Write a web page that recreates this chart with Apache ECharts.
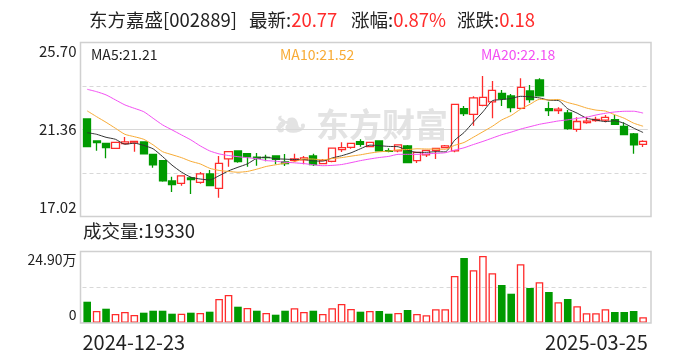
<!DOCTYPE html>
<html><head><meta charset="utf-8">
<script src="https://cdn.jsdelivr.net/npm/echarts@6/dist/echarts.min.js"></script>
<style>html,body{margin:0;padding:0;background:#fff}#c{width:688px;height:360px}</style>
</head><body><div id="c"></div>
<script>
// ---------- data ----------
const dates = ['2024-12-23','2024-12-24','2024-12-25','2024-12-26','2024-12-27','2024-12-30','2024-12-31',
'2025-01-02','2025-01-03','2025-01-06','2025-01-07','2025-01-08','2025-01-09','2025-01-10','2025-01-13','2025-01-14',
'2025-01-15','2025-01-16','2025-01-17','2025-01-20','2025-01-21','2025-01-22','2025-01-23','2025-01-24','2025-01-27',
'2025-02-05','2025-02-06','2025-02-07','2025-02-10','2025-02-11','2025-02-12','2025-02-13','2025-02-14','2025-02-17',
'2025-02-18','2025-02-19','2025-02-20','2025-02-21','2025-02-24','2025-02-25','2025-02-26','2025-02-27','2025-02-28',
'2025-03-03','2025-03-04','2025-03-05','2025-03-06','2025-03-07','2025-03-10','2025-03-11','2025-03-12','2025-03-13',
'2025-03-14','2025-03-17','2025-03-18','2025-03-19','2025-03-20','2025-03-21','2025-03-24','2025-03-25'];
const opens  = [21.89,20.79,20.67,20.42,20.65,20.69,20.74,20.12,19.80,18.79,18.67,18.94,18.72,19.14,18.42,19.89,20.29,20.15,19.98,19.97,
                20.04,19.74,19.82,19.84,20.04,19.65,19.77,20.35,20.47,20.75,20.50,20.79,20.30,20.29,20.54,19.80,20.09,20.32,20.45,20.29,
                22.40,22.12,22.57,22.74,23.17,23.04,22.42,23.29,23.84,22.40,22.30,22.19,21.37,21.70,21.80,21.83,21.85,21.52,21.14,20.62];
const closes = [20.50,20.70,20.45,20.72,20.74,20.77,20.14,19.59,18.79,18.60,19.04,18.85,19.14,18.55,19.67,20.25,19.75,19.99,19.93,19.95,
                19.87,19.65,19.89,19.94,19.60,19.82,20.43,20.45,20.67,20.62,20.72,20.29,20.27,20.59,19.70,20.22,20.32,20.42,20.54,22.62,
                22.15,22.94,22.97,23.32,22.89,22.45,23.47,22.85,23.04,22.31,22.38,21.40,21.76,21.78,21.86,21.97,21.62,21.10,20.59,20.77];
const lows   = [20.48,20.30,19.92,20.40,20.62,20.25,20.12,19.45,18.75,18.24,18.55,18.14,18.65,18.55,17.95,19.50,19.70,19.50,19.55,19.77,
                19.62,19.54,19.75,19.62,19.54,19.65,19.72,20.24,20.40,20.50,20.48,20.28,20.22,20.22,19.70,19.69,19.99,19.89,20.42,20.22,
                22.04,21.55,22.52,21.92,22.54,22.22,22.40,22.70,23.03,22.04,22.14,21.35,21.25,21.65,21.75,21.72,21.60,21.10,20.15,20.49];
const highs  = [21.90,20.82,20.70,20.73,20.99,20.80,20.77,20.12,19.82,19.00,19.05,19.00,19.24,19.34,20.04,20.26,20.29,20.19,20.19,20.10,
                20.05,20.14,20.15,20.04,20.15,19.89,20.45,20.72,20.68,20.87,20.73,20.80,20.42,20.60,20.59,20.23,20.33,20.45,20.59,22.64,
                22.54,23.02,24.04,23.79,23.34,23.14,23.92,23.59,23.92,22.75,22.47,22.34,21.97,22.00,22.00,22.09,22.09,21.72,21.19,20.82];
const volumes = [73200,40800,48800,30300,37300,26800,34900,41800,41800,31400,31400,34900,33800,38400,82600,96600,55800,51200,41800,33800,
                 27900,41800,50200,37300,41800,30300,50200,65200,47800,38400,40800,40800,31400,33800,44300,30300,25800,46700,46700,162800,
                 225600,182700,232600,172300,131500,101100,203600,121000,140900,107100,71100,82600,57200,32800,32800,46700,37300,37300,40800,19330];
// moving-average values for the first days (history before the window)
const ma5Head  = [21.20,21.12,20.97,20.87];
const ma10Head = [22.29,22.00,21.72,21.42,21.12,21.00,20.87,20.59,20.25];
const ma20Head = [23.37,23.25,23.09,22.84,22.59,22.42,22.25,21.92,21.59,21.34,21.09,20.84,20.54,20.29,20.14,20.06,20.00,19.95,19.90];
const priceTicks = ['17.02','21.36','25.70'];
const volTicks = ['0','24.90万'];
const priceMin = 17.02, priceMax = 25.70, volMax = 249000;
const stockName = '东方嘉盛[002889]';
const latest = '20.77', changePct = '0.87%', change = '0.18';
const lastVolume = '19330';
const maLegend = {ma5:'21.21', ma10:'21.52', ma20:'22.18'};

// ---------- build ----------
const RED = '#ff2b2b', GREEN = '#009a00';
function movingAvg(n, head){
  return closes.map((c,i)=>{
    if (i < head.length) return head[i];
    let s = 0; for (let k=i-n+1;k<=i;k++) s += closes[k];
    return +(s/n).toFixed(3);
  });
}
const kData = opens.map((o,i)=>[o, closes[i], lows[i], highs[i]]);
const volData = volumes.map((v,i)=>{
  const up = i === 0 ? closes[i] >= opens[i] : closes[i] >= closes[i-1];
  return {value: v, itemStyle: up ? {color:'rgba(255,255,255,0)', borderColor: RED, borderWidth: 1.3}
                                  : {color: GREEN, borderColor: GREEN, borderWidth: 0}};
});
const FONT = '"Microsoft YaHei","Noto Sans CJK SC",sans-serif';
const GL = 82.5, GR = 40.2;
const HF = '18.5px ' + FONT;

const chart = echarts.init(document.getElementById('c'), null, {renderer:'canvas'});
chart.setOption({
  animation: false,
  backgroundColor: '#fff',
  textStyle: {fontFamily: FONT},
  grid: [
    {left: GL, right: GR, top: 42.7, height: 173.6},
    {left: GL, right: GR, top: 251.3, height: 71.4}
  ],
  xAxis: [
    {type:'category', gridIndex:0, position:'bottom', data: dates, boundaryGap:true, axisLine:{show:false}, axisTick:{show:false}, axisLabel:{show:false}, splitLine:{show:false}},
    {type:'category', gridIndex:1, position:'bottom', data: dates, boundaryGap:true, axisLine:{show:false}, axisTick:{show:false}, axisLabel:{show:false}, splitLine:{show:false}},
    {type:'category', gridIndex:1, position:'bottom', data: dates, boundaryGap:false, axisLine:{show:false}, axisTick:{show:false}, splitLine:{show:false},
      axisLabel:{show:true, interval:(i)=>i===0, showMinLabel:true, showMaxLabel:false, align:'left', margin:10, color:'#222', fontSize:20, fontFamily:FONT}},
    {type:'category', gridIndex:1, position:'bottom', data: dates, boundaryGap:false, axisLine:{show:false}, axisTick:{show:false}, splitLine:{show:false},
      axisLabel:{show:true, interval:(i)=>i===dates.length-1, showMinLabel:false, showMaxLabel:true, align:'right', margin:10, color:'#222', fontSize:20, fontFamily:FONT}}
  ],
  yAxis: [
    {type:'value', gridIndex:0, position:'left', min:priceMin, max:priceMax, interval:(priceMax-priceMin)/4, axisLine:{show:false}, axisTick:{show:false}, axisLabel:{show:false},
      splitLine:{show:true, lineStyle:{color:'#d8d8d8', type:[4,3], width:1}}},
    {type:'value', gridIndex:0, position:'left', min:priceMin, max:priceMax, interval:(priceMax-priceMin)/2, axisLine:{show:false}, axisTick:{show:false},
      splitLine:{show:true, lineStyle:{color:'#d8d8d8', width:1}},
      axisLabel:{show:true, showMinLabel:true, showMaxLabel:true, color:'#222', fontSize:15, fontFamily:FONT, margin:6, lineHeight:18,
        formatter:(v,idx)=> idx===0 ? priceTicks[0]+'\n' : (idx===2 ? '\n'+priceTicks[2] : priceTicks[1])}},
    {type:'value', gridIndex:1, position:'left', min:0, max:volMax, interval:volMax/2, axisLine:{show:false}, axisTick:{show:false},
      splitLine:{show:true, lineStyle:{color:'#d8d8d8', type:[4,3], width:1}},
      axisLabel:{show:true, showMinLabel:true, showMaxLabel:true, color:'#222', fontSize:14, fontFamily:FONT, margin:6, lineHeight:16,
        formatter:(v,idx)=> idx===0 ? volTicks[0]+'\n' : (idx===2 ? '\n'+volTicks[1] : '')}}
  ],
  series: [
    {type:'candlestick', xAxisIndex:0, yAxisIndex:0, data:kData, barWidth:7.6,
      itemStyle:{color:'rgba(255,255,255,0)', color0:GREEN, borderColor:RED, borderColor0:GREEN, borderWidth:1.3}, z:2},
    {type:'line', xAxisIndex:0, yAxisIndex:0, data:movingAvg(5, ma5Head), showSymbol:false, smooth:0.2, lineStyle:{color:'#333', width:1}, z:3},
    {type:'line', xAxisIndex:0, yAxisIndex:0, data:movingAvg(10, ma10Head), showSymbol:false, smooth:0.2, lineStyle:{color:'#f8ab35', width:1}, z:3},
    {type:'line', xAxisIndex:0, yAxisIndex:0, data:movingAvg(20, ma20Head), showSymbol:false, smooth:0.2, lineStyle:{color:'#f34ff3', width:1}, z:3},
    {type:'bar', xAxisIndex:1, yAxisIndex:2, data:volData, barWidth:7.6}
  ],
  graphic: [
    {type:'rect', shape:{x:80.5, y:42.5, width:570.5, height:174}, style:{fill:null, stroke:'#d0d0d0', lineWidth:1.5}, silent:true, z:10},
    {type:'rect', shape:{x:80.5, y:251.5, width:570.5, height:71.5}, style:{fill:null, stroke:'#d0d0d0', lineWidth:1.5}, silent:true, z:10},
    // watermark
    {type:'text', left:316, top:108, z:-1, silent:true, style:{text:'东方财富', fill:'#e3e3e3', font:'bold 33px '+FONT}},
    {type:'text', left:274, top:104, z:-1, silent:true, style:{text:'❧', fill:'#e3e3e3', font:'bold 40px '+FONT}},
    // header
    {type:'text', left:89, top:11, style:{text:stockName, fill:'#222', font:HF}},
    {type:'text', left:249, top:11, style:{text:'{k|最新:}{v|'+latest+'}', rich:{k:{fill:'#222', font:HF}, v:{fill:RED, font:HF}}}},
    {type:'text', left:351, top:11, style:{text:'{k|涨幅:}{v|'+changePct+'}', rich:{k:{fill:'#222', font:HF}, v:{fill:RED, font:HF}}}},
    {type:'text', left:457, top:11, style:{text:'{k|涨跌:}{v|'+change+'}', rich:{k:{fill:'#222', font:HF}, v:{fill:RED, font:HF}}}},
    // MA legends
    {type:'text', left:91, top:48, style:{text:'MA5:'+maLegend.ma5, fill:'#222', font:'14px '+FONT}},
    {type:'text', left:280, top:48, style:{text:'MA10:'+maLegend.ma10, fill:'#f8ab35', font:'14px '+FONT}},
    {type:'text', left:481, top:48, style:{text:'MA20:'+maLegend.ma20, fill:'#f34ff3', font:'14px '+FONT}},
    // volume title
    {type:'text', left:83, top:222, style:{text:'成交量:'+lastVolume, fill:'#222', font:'18.5px '+FONT}}
  ]
});
</script></body></html>
